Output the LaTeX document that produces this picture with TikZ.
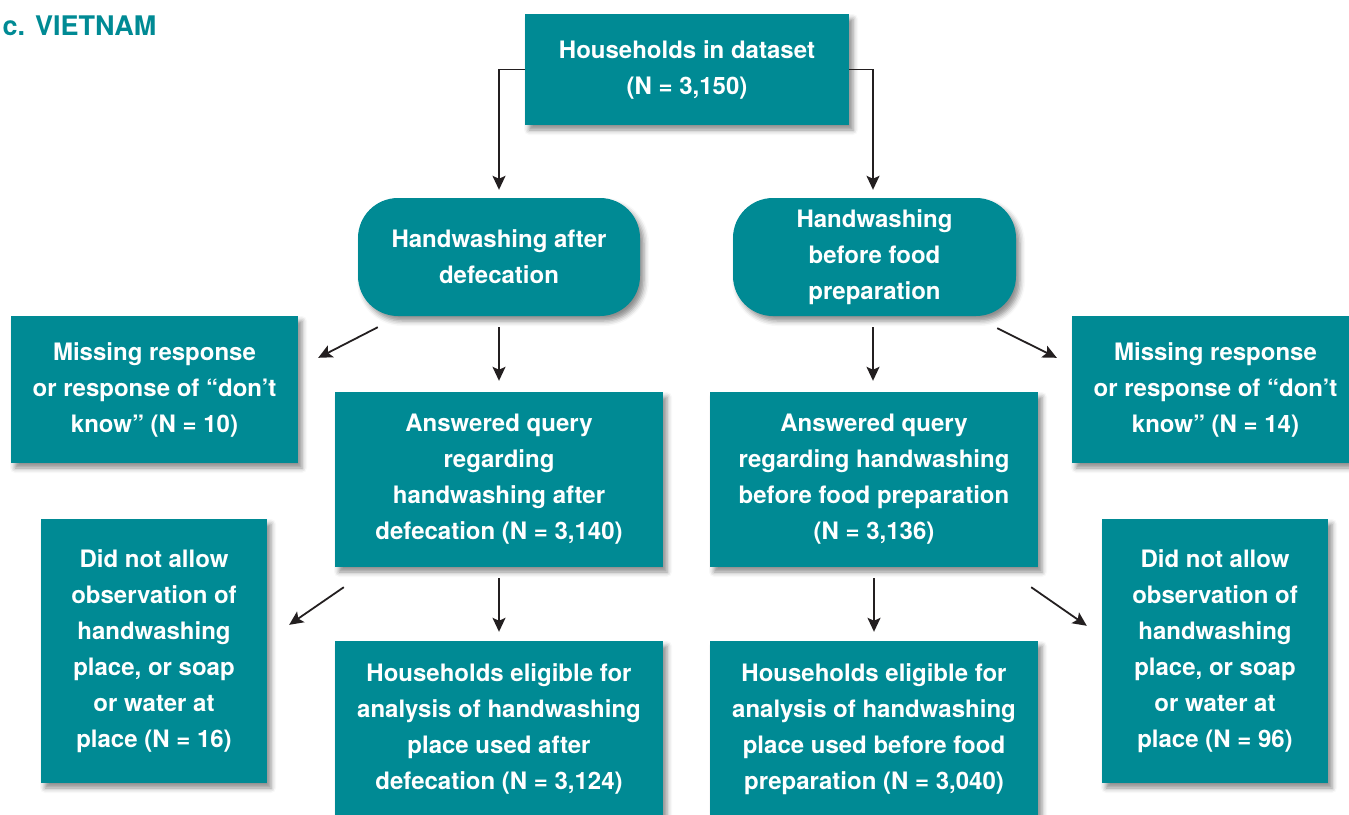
\documentclass[tikz,border=0pt]{standalone}
\usepackage{fontspec}
\setmainfont{TeX Gyre Heros}
\usetikzlibrary{arrows.meta,calc,shadows.blur}
\definecolor{teal}{RGB}{0,138,148}
\definecolor{ink}{RGB}{35,31,32}
\tikzset{
  box/.style={fill=teal, text=white, align=center, inner sep=0pt,
    font=\fontsize{24}{36}\selectfont\bfseries,
    blur shadow={shadow xshift=4pt, shadow yshift=-5pt, shadow blur radius=5pt, shadow opacity=45}},
  roundbox/.style={box, rounded corners=40pt},
  arr/.style={draw=ink, line width=1.8pt, -{Stealth[length=14pt,width=13pt,inset=3pt]}},
}
\begin{document}
\begin{tikzpicture}[x=1pt,y=-1pt]
\useasboundingbox (0,0) rectangle (1349,814);
\node[anchor=base west, text=teal, font=\fontsize{27}{30}\selectfont\bfseries] (title) at (-1,35) {c. VIETNAM};

\node[box, minimum width=324pt, minimum height=111pt] (top) at (687,69.5) {Households in dataset\\(N = 3,150)};
\node[roundbox, minimum width=282pt, minimum height=118pt] (hl) at (499,257) {Handwashing after\\defecation};
\node[roundbox, minimum width=283pt, minimum height=118pt] (hr) at (874.5,257) {Handwashing\\before food\\preparation};
\node[box, minimum width=287pt, minimum height=147pt] (ml) at (154.5,389.5) {Missing response\\or response of “don’t\\know” (N = 10)};
\node[box, minimum width=328pt, minimum height=175pt] (al) at (499,479.5) {Answered query\\regarding\\handwashing after\\defecation (N = 3,140)};
\node[box, minimum width=328pt, minimum height=175pt] (ar) at (874,479.5) {Answered query\\regarding handwashing\\before food preparation\\(N = 3,136)};
\node[box, minimum width=287pt, minimum height=147pt] (mr) at (1215.5,389.5) {Missing response\\or response of “don’t\\know” (N = 14)};
\node[box, minimum width=226pt, minimum height=264pt] (dl) at (154,651) {Did not allow\\observation of\\handwashing\\place, or soap\\or water at\\place (N = 16)};
\node[box, minimum width=328pt, minimum height=176pt] (el) at (499,729) {Households eligible for\\analysis of handwashing\\place used after\\defecation (N = 3,124)};
\node[box, minimum width=328pt, minimum height=176pt] (er) at (874,729) {Households eligible for\\analysis of handwashing\\place used before food\\preparation (N = 3,040)};
\node[box, minimum width=226pt, minimum height=264pt] (dr) at (1215,651) {Did not allow\\observation of\\handwashing\\place, or soap\\or water at\\place (N = 96)};

\draw[arr, shorten >=8pt] (top.west) -| (hl.north);
\draw[arr, shorten >=8pt] (top.east) -| ([xshift=-1.5pt]hr.north);
\draw[arr] ($(hl.south west)+(20,11)$) -- ($(ml.north east)+(20,42)$);
\draw[arr, shorten <=11pt, shorten >=11pt] (hl.south) -- (hl.south |- al.north);
\draw[arr, shorten <=11pt, shorten >=11pt] ([xshift=-1.5pt]hr.south) -- ([xshift=-1.5pt]hr.south |- ar.north);
\draw[arr] ($(hr.south east)+(-19,12)$) -- ($(mr.north west)+(-15,42)$);
\draw[arr] ($(al.south west)+(9,20)$) -- ($(dl.north east)+(22,106)$);
\draw[arr, shorten <=11pt, shorten >=9pt] (al.south) -- (al.south |- el.north);
\draw[arr, shorten <=11pt, shorten >=9pt] (ar.south) -- (ar.south |- er.north);
\draw[arr] ($(ar.south east)+(-7,20)$) -- ($(dr.north west)+(-15,107)$);
\end{tikzpicture}
\end{document}
